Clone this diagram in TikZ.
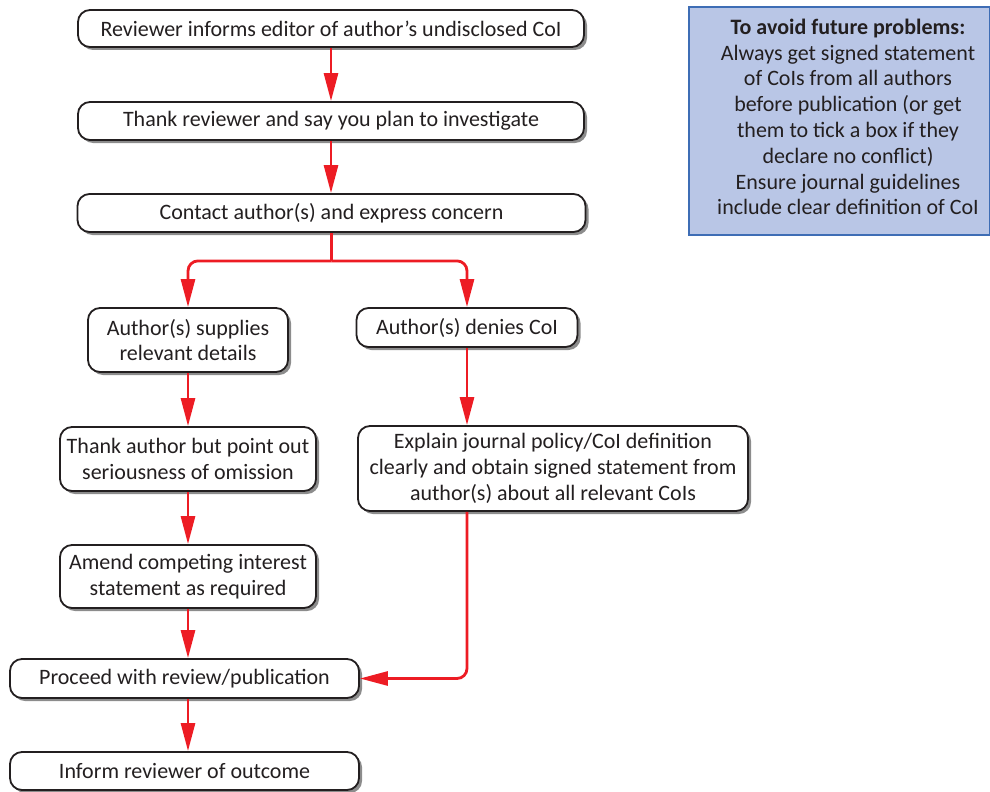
\documentclass[tikz,border=0pt]{standalone}
\usepackage{fontspec}
\setmainfont{Carlito}
\usetikzlibrary{arrows.meta,shadows,calc}
\definecolor{flowred}{HTML}{ED1C24}
\definecolor{infofill}{HTML}{B9C6E6}
\definecolor{infoline}{HTML}{3E6DB5}
\definecolor{txt}{HTML}{231F20}
\begin{document}
\begin{tikzpicture}[x=1pt,y=-1pt,
  flowbox/.style={draw=txt, line width=1.8pt, rounded corners=12pt, fill=white,
    text=txt, align=center, inner sep=0pt,
    font=\fontsize{22}{25.8}\selectfont,
    drop shadow={shadow xshift=3pt, shadow yshift=-3pt, fill=black!45, opacity=1}},
  flowline/.style={draw=flowred, line width=2.8pt},
  flowarrow/.style={flowline, -{Triangle[length=28pt,width=14pt]}},
  infobox/.style={draw=infoline, line width=2pt, fill=infofill},
  infotext/.style={text=txt, align=center, inner sep=0pt,
    font=\fontsize{22}{25.8}\selectfont}
]
\useasboundingbox (0,0) rectangle (990,792);

\node[flowbox, minimum width=506pt, minimum height=37pt] (b1) at (331,28.5)
  {Reviewer informs editor of author's undisclosed CoI};
\node[flowbox, minimum width=506pt, minimum height=38pt] (b2) at (331,121)
  {Thank reviewer and say you plan to investigate};
\node[flowbox, minimum width=508pt, minimum height=38pt] (b3) at (331.5,213)
  {Contact author(s) and express concern};
\node[flowbox, minimum width=200pt, minimum height=64pt] (b4) at (188,340)
  {Author(s) supplies\\relevant details};
\node[flowbox, minimum width=221pt, minimum height=39pt] (b5) at (467,327.5)
  {Author(s) denies CoI};
\node[flowbox, minimum width=256pt, minimum height=64pt] (b6) at (188,459)
  {Thank author but point out\\seriousness of omission};
\node[flowbox, minimum width=390pt, minimum height=85pt] (b7) at (553,468.5)
  {Explain journal policy/CoI definition\\clearly and obtain signed statement from\\author(s) about all relevant CoIs};
\node[flowbox, minimum width=256pt, minimum height=63pt] (b8) at (188,576.5)
  {Amend competing interest\\statement as required};
\node[flowbox, minimum width=349pt, minimum height=39pt] (b9) at (184.5,678.5)
  {Proceed with review/publication};
\node[flowbox, minimum width=349pt, minimum height=38pt] (b10) at (184.5,771)
  {Inform reviewer of outcome};

\node[infobox, minimum width=301pt, minimum height=228pt] (info) at (839.5,121) {};
\node[infotext] (infot) at (848,117)
  {\textbf{To avoid future problems:}\\Always get signed statement\\of CoIs from all authors\\before publication (or get\\them to tick a box if they\\declare no conflict)\\Ensure journal guidelines\\include clear definition of CoI};

\coordinate (j) at ($(b3.south)+(0,28)$);

\draw[flowarrow] (b1.south) -- (b2.north);
\draw[flowarrow] (b2.south) -- (b2.south |- b3.north);
\draw[flowline] (b3.south) -- (j);
\draw[flowarrow, rounded corners=10pt] (j) -| (b4.north);
\draw[flowarrow, rounded corners=10pt] (j) -| (b5.north);
\draw[flowarrow] (b4.south) -- (b6.north);
\draw[flowarrow] (b5.south) -- (b5.south |- b7.north);
\draw[flowarrow] (b6.south) -- (b8.north);
\draw[flowarrow] (b8.south) -- (b8.south |- b9.north);
\draw[flowarrow, rounded corners=10pt] (b5.south |- b7.south) |- (b9.east);
\draw[flowarrow] (b8.south |- b9.south) -- (b8.south |- b10.north);
\end{tikzpicture}
\end{document}
